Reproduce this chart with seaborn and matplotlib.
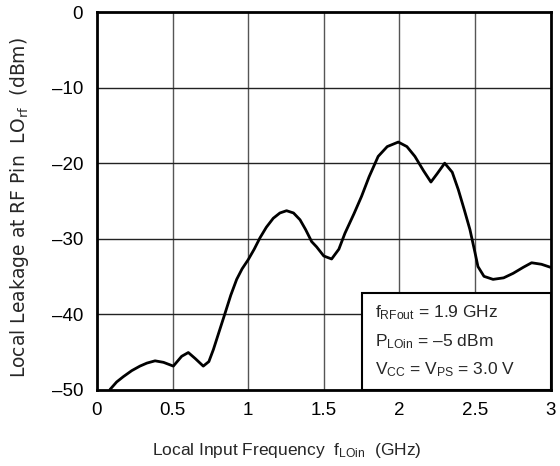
import matplotlib
matplotlib.use("Agg")
import matplotlib.pyplot as plt
import seaborn as sns
import pandas as pd
from matplotlib.patches import Rectangle

freq_ghz = [0.086, 0.13, 0.174, 0.23, 0.284, 0.33, 0.384, 0.44, 0.505, 0.56, 0.604, 0.65,
            0.703, 0.74, 0.77, 0.81, 0.847, 0.885, 0.924, 0.96, 1.0, 1.04, 1.078, 1.12,
            1.166, 1.21, 1.254, 1.30, 1.343, 1.38, 1.42, 1.453, 1.50, 1.552, 1.60, 1.64,
            1.70, 1.75, 1.80, 1.86, 1.92, 1.993, 2.05, 2.103, 2.16, 2.209, 2.25, 2.30,
            2.35, 2.39, 2.43, 2.467, 2.50, 2.52, 2.56, 2.62, 2.69, 2.753, 2.82, 2.875,
            2.94, 3.0]
leakage_dbm = [-50.0, -49.0, -48.3, -47.5, -46.9, -46.5, -46.2, -46.4, -46.9, -45.6, -45.1, -45.9,
               -46.9, -46.3, -44.7, -42.2, -39.9, -37.5, -35.4, -34.0, -32.8, -31.4, -29.9, -28.5,
               -27.3, -26.6, -26.3, -26.6, -27.5, -28.8, -30.4, -31.1, -32.3, -32.7, -31.4, -29.3,
               -26.7, -24.4, -21.8, -19.1, -17.8, -17.2, -17.8, -19.1, -21.0, -22.5, -21.4, -20.0,
               -21.2, -23.5, -26.2, -28.8, -31.8, -33.7, -35.0, -35.4, -35.2, -34.6, -33.8, -33.2,
               -33.4, -33.8]

x_ticks = [0, 0.5, 1, 1.5, 2, 2.5, 3]
x_tick_labels = ["0", "0.5", "1", "1.5", "2", "2.5", "3"]
y_ticks = [0, -10, -20, -30, -40, -50]
y_tick_labels = ["0", "\u201310", "\u201320", "\u201330", "\u201340", "\u201350"]

sns.set_theme(style="white")
plt.rcParams["font.family"] = ["Liberation Sans", "DejaVu Sans"]
plt.rcParams["mathtext.fontset"] = "custom"
plt.rcParams["mathtext.rm"] = "Liberation Sans"
plt.rcParams["mathtext.it"] = "Liberation Sans"

df = pd.DataFrame({"f": freq_ghz, "l": leakage_dbm})

W, H = 560, 466
fig = plt.figure(figsize=(5.6, 4.66), dpi=100)
ax = fig.add_axes([97 / W, 1 - 389.5 / H, 453.5 / W, 377.2 / H])

for xv in x_ticks[1:-1]:
    ax.axvline(xv, color="#555555", lw=1.0, zorder=1)
for yv in y_ticks[1:-1]:
    ax.axhline(yv, color="#222222", lw=1.0, zorder=1)

sns.lineplot(data=df, x="f", y="l", sort=False, color="black", lw=2.0, ax=ax, zorder=3)

ax.set_xlim(0, 3)
ax.set_ylim(-50, 0)
ax.set_xticks(x_ticks)
ax.set_xticklabels(x_tick_labels, fontsize=13.5)
ax.set_yticks(y_ticks)
ax.set_yticklabels(y_tick_labels, fontsize=13.5)
ax.tick_params(axis="x", length=0, pad=9, colors="black")
ax.tick_params(axis="y", length=0, pad=10, colors="black")
for s in ax.spines.values():
    s.set_linewidth(2.0)
    s.set_color("black")
ax.set_xlabel("")
ax.set_ylabel("")

fig.text(287 / W, 1 - 455 / H, r"Local Input Frequency  f$_{\mathregular{LOin}}$  (GHz)",
         fontsize=12.5, ha="center", va="baseline")
fig.text(20 / W, 1 - 207.5 / H, r"Local Leakage at RF Pin  LO$_{\mathregular{rf}}$  (dBm)",
         fontsize=13.5, ha="center", va="center", rotation=90,
         family=["DejaVu Sans"])

# annotation box
bx0 = (362 - 97) / 453.5
by1 = 1 - (293 - 12.3) / 377.2
rect = Rectangle((bx0, 0), 1 - bx0, by1, transform=ax.transAxes,
                 facecolor="white", edgecolor="black", lw=1.5, zorder=4)
ax.add_patch(rect)
lines = [r"f$_{\mathregular{RFout}}$ = 1.9 GHz",
         "P$_{\\mathregular{LOin}}$ = \u20135 dBm",
         r"V$_{\mathregular{CC}}$ = V$_{\mathregular{PS}}$ = 3.0 V"]
ys = [313, 341.7, 370]
tx = (375 - 97) / 453.5
for t, yp in zip(lines, ys):
    ax.text(tx, 1 - (yp - 12.3) / 377.2, t, transform=ax.transAxes, fontsize=12.5,
            va="center", ha="left", zorder=5)

fig.savefig("out.png", dpi=100)
